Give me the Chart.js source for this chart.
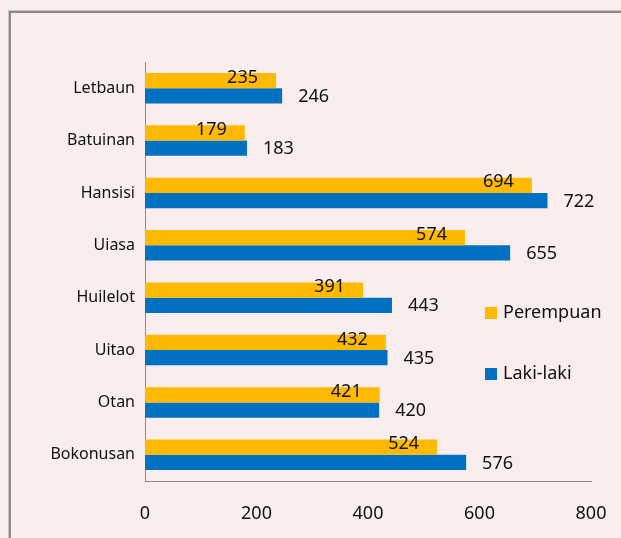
<!DOCTYPE html>
<html>
<head>
<meta charset="utf-8">
<script src="https://cdn.jsdelivr.net/npm/chart.js@4.4.0/dist/chart.umd.min.js"></script>
<style>
  html, body { margin: 0; padding: 0; background: #f9eeed; }
  #wrap { width: 621px; height: 538px; position: relative; }
</style>
</head>
<body>
<div id="wrap"><canvas id="myChart" width="621" height="538"></canvas></div>
<script>
  // data
  const desa = ["Letbaun", "Batuinan", "Hansisi", "Uiasa", "Huilelot", "Uitao", "Otan", "Bokonusan"];
  const perempuan = [235, 179, 694, 574, 391, 432, 421, 524];
  const lakiLaki = [246, 183, 722, 655, 443, 435, 420, 576];
  const xTicks = [0, 200, 400, 600, 800];

  const FONT = "'Noto Sans', 'Open Sans', sans-serif";

  // background + frame
  const framePlugin = {
    id: "frame",
    beforeDraw(chart) {
      const c = chart.ctx;
      c.save();
      c.fillStyle = "#f9eeed";
      c.fillRect(0, 0, chart.width, chart.height);
      c.strokeStyle = "#c8c4c4";
      c.lineWidth = 1;
      c.strokeRect(8.5, 10.5, chart.width + 20, chart.height + 20);
      c.strokeStyle = "#8a8a8a";
      c.lineWidth = 2;
      c.strokeRect(10, 12, chart.width + 20, chart.height + 20);
      c.restore();
    }
  };

  // value labels: Perempuan inside near end, Laki-laki outside
  const labelPlugin = {
    id: "vals",
    afterDatasetsDraw(chart) {
      const c = chart.ctx;
      c.save();
      c.font = "18px " + FONT;
      c.fillStyle = "#111";
      c.textBaseline = "middle";
      chart.data.datasets.forEach((ds, i) => {
        chart.getDatasetMeta(i).data.forEach((bar, j) => {
          const v = ds.data[j];
          if (i === 0) {
            c.textAlign = "right";
            c.fillText(v, bar.x - 18, bar.y - 3);
          } else {
            c.textAlign = "left";
            c.fillText(v, bar.x + 16, bar.y + 1);
          }
        });
      });
      c.restore();
    }
  };

  // legend on the right, drawn by hand
  const legendPlugin = {
    id: "sideLegend",
    afterDraw(chart) {
      const c = chart.ctx;
      const ys = [313, 374];
      c.save();
      c.font = "18px " + FONT;
      c.textAlign = "left";
      c.textBaseline = "middle";
      chart.data.datasets.forEach((ds, i) => {
        c.fillStyle = ds.backgroundColor;
        c.fillRect(485, ys[i] - 6, 12, 12);
        c.fillStyle = "#111";
        c.fillText(ds.label, 503, ys[i]);
      });
      c.restore();
    }
  };

  const ctx = document.getElementById("myChart");
  const chart = new Chart(ctx, {
    type: "bar",
    data: {
      labels: desa,
      datasets: [
        {
          label: "Perempuan",
          data: perempuan,
          backgroundColor: "#ffb900",
          barPercentage: 1,
          categoryPercentage: 0.58,
        },
        {
          label: "Laki-laki",
          data: lakiLaki,
          backgroundColor: "#0070c0",
          barPercentage: 1,
          categoryPercentage: 0.58,
        },
      ],
    },
    options: {
      indexAxis: "y",
      responsive: false,
      animation: false,
      layout: { padding: { top: 62, right: 30, left: 0, bottom: 0 } },
      plugins: {
        legend: { display: false },
        tooltip: { enabled: false },
      },
      scales: {
        x: {
          min: 0,
          max: 800,
          afterBuildTicks: (axis) => {
            axis.ticks = xTicks.map((v) => ({ value: v }));
          },
          afterFit: (axis) => {
            axis.height = 57;
            axis.paddingLeft = 0;
            axis.paddingRight = 0;
          },
          grid: { display: false, drawTicks: false },
          border: { display: true, color: "#8c8c8c", width: 1 },
          ticks: {
            padding: 22,
            color: "#111",
            font: { family: FONT, size: 18 },
          },
        },
        y: {
          afterFit: (axis) => {
            axis.width = 145;
          },
          grid: { display: false, drawTicks: false },
          border: { display: true, color: "#8c8c8c", width: 1 },
          ticks: {
            padding: 10,
            color: "#111",
            font: { family: FONT, size: 16 },
          },
        },
      },
    },
    plugins: [framePlugin, labelPlugin, legendPlugin],
  });
</script>
</body>
</html>
